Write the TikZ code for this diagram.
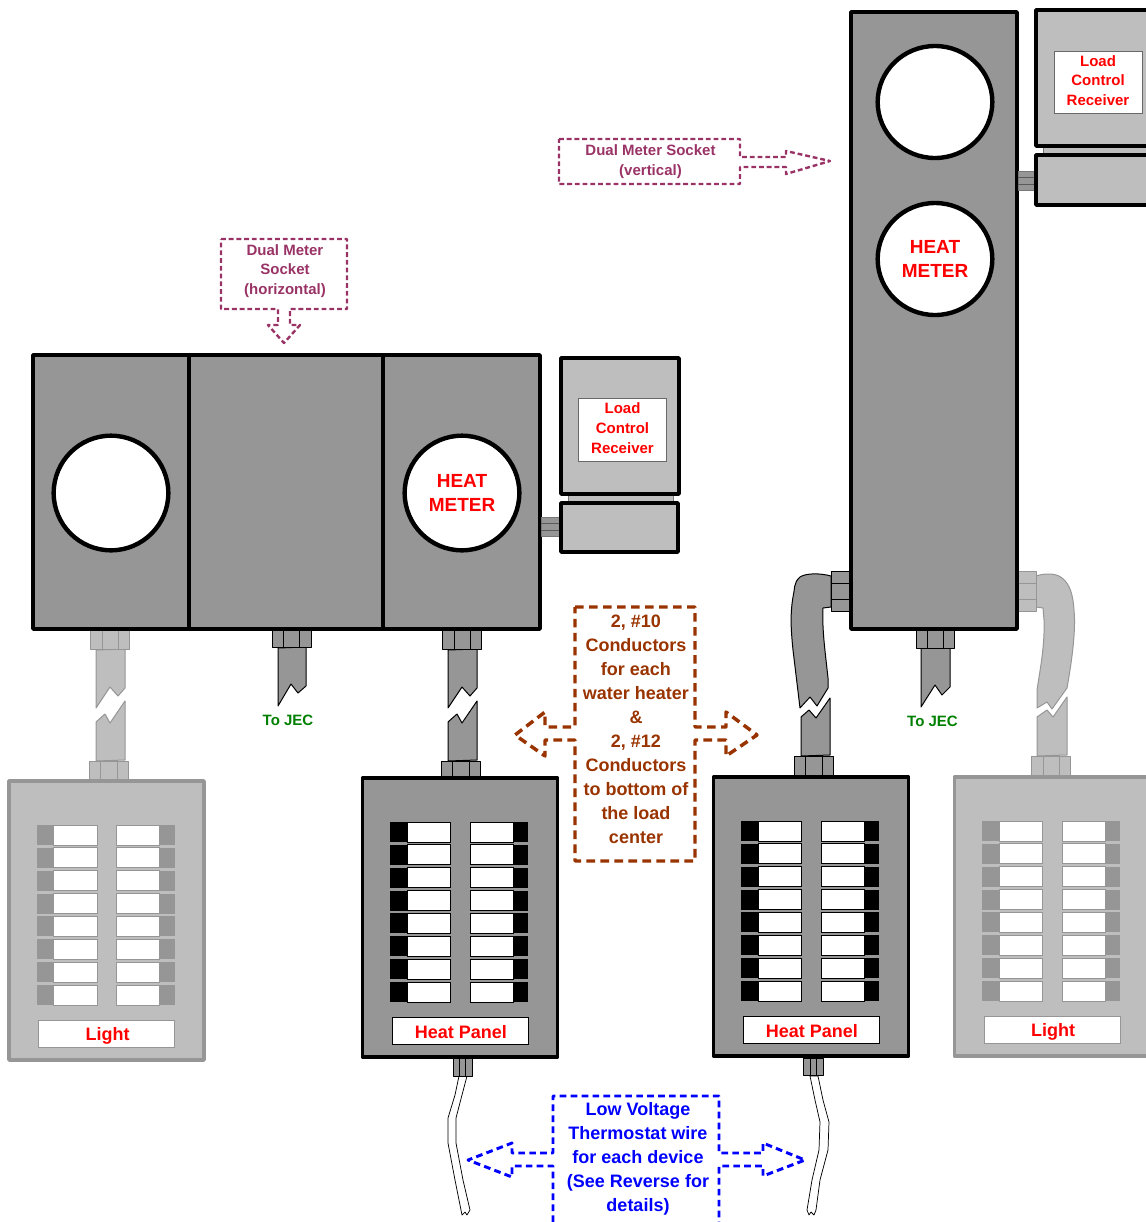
\documentclass[tikz,border=0pt]{standalone}
\usepackage{fontspec}
\usetikzlibrary{shapes.geometric}
\setmainfont{Liberation Sans}
\definecolor{dk}{HTML}{969696}
\definecolor{lt}{HTML}{BEBEBE}
\definecolor{burg}{HTML}{993366}
\definecolor{rust}{HTML}{993300}
\definecolor{myblue}{HTML}{0000FF}
\definecolor{mygreen}{HTML}{008000}
\tikzset{
  heavy/.style={draw=black,line width=2.8pt,line join=round},
  meterring/.style={draw=black,line width=3.3pt,fill=white,inner sep=0pt},
  thinline/.style={line width=0.75pt,line join=round},
  wireline/.style={line width=0.55pt,line join=round},
  t18/.style={font=\fontsize{13.5}{18}\selectfont\bfseries,inner sep=0pt,align=center},
  t15/.style={font=\fontsize{11.25}{15}\selectfont\bfseries,inner sep=0pt,align=center},
  t20/.style={font=\fontsize{14.25}{18}\selectfont\bfseries,inner sep=0pt,align=center},
  burgcall/.style={draw=burg,line width=1.8pt,dash pattern=on 3.6pt off 2.2pt,line join=round},
  rustcall/.style={draw=rust,line width=2.6pt,dash pattern=on 6.5pt off 4pt,line join=round},
  bluecall/.style={draw=myblue,line width=2.2pt,dash pattern=on 5pt off 3.2pt,line join=round},
}
\newcommand{\nutH}[7]{%
  \draw[#7,thinline] (#1,#3) rectangle (#2,#4);
  \draw[#7,thinline] (#5,#3) -- (#5,#4) (#6,#3) -- (#6,#4);
}
\newcommand{\brokenpipe}[2]{%
  \begin{scope}[xshift=#1*0.75pt]
    \draw[#2,thinline] (96,650) -- (125,649) -- (125,688) -- (118,696) -- (110,687) -- (96,708) -- cycle;
    \draw[#2,thinline] (96,722) -- (105,714) -- (110,723) -- (125,701) -- (125,760) -- (96,761) -- cycle;
    \nutH{90}{129}{630}{649}{102}{118}{#2}
    \nutH{89}{128}{761}{779}{100}{117}{#2}
  \end{scope}
}
% panel: name x y fill border block label
\newcommand{\panelbox}[7]{%
  \begin{scope}[shift={(#2*0.75pt,-#3*0.75pt)}]
    \draw[fill=#4,draw=#5,line width=2.8pt,line join=round] (0.5,0) rectangle (195.5,279);
    \foreach \r in {0,...,7}{
      \pgfmathsetmacro{\yy}{44+22.86*\r}
      \pgfmathsetmacro{\yz}{\yy+20}
      \fill[#6] (28,\yy) rectangle (45,\yz);
      \fill[#6] (151,\yy) rectangle (166,\yz);
      \draw[fill=white,draw=#6,line width=.75pt] (45,\yy) rectangle (88.5,\yz);
      \draw[fill=white,draw=#6,line width=.75pt] (108,\yy) rectangle (151,\yz);
    }
    \draw[fill=white,draw=#6,line width=.75pt] (30,239) rectangle (166,266);
    \node[t18,text=red] (#1) at (99,254.5) {#7};
  \end{scope}
}
\begin{document}
\begin{tikzpicture}[x=0.75pt,y=-0.75pt]
\useasboundingbox (0,0) rectangle (1146,1222);
\begin{scope}
\clip (0,0) rectangle (1146,1222);

% conduits first
\brokenpipe{0}{fill=lt,draw=dk}
\brokenpipe{352}{fill=dk,draw=black}

% JEC stubs
\draw[fill=dk,draw=black,thinline] (278,648) -- (306,647) -- (306,686) -- (298,693) -- (291,684) -- (278,706) -- cycle;
\nutH{272}{311}{629}{647}{283}{299}{fill=dk,draw=black}
\draw[fill=dk,draw=black,thinline] (921,648) -- (950,648) -- (950,687) -- (942,695) -- (935,685) -- (921,707) -- cycle;
\nutH{916}{954}{630}{648}{927}{943}{fill=dk,draw=black}
\node[t15,text=mygreen] (jec1) at (288,720) {To JEC};
\node[t15,text=mygreen] (jec2) at (932.5,721) {To JEC};

% bent conduit, dark
\draw[fill=dk,draw=black,thinline] (831,576) .. controls (820,573) and (806,573) .. (800,577)
  .. controls (793,583) and (795,590) .. (793,597) .. controls (790,615) and (791,630) .. (793,650)
  -- (800,708) -- (810,697) -- (817,706) -- (828,688) -- (828,678)
  .. controls (825,650) and (822,630) .. (823,608) -- (831,607) -- cycle;
\draw[fill=dk,draw=black,thinline] (801,717) -- (809,710) -- (816,718) -- (830,698) -- (830,755) -- (801,756) -- cycle;
\draw[fill=dk,draw=black,thinline] (831,571) rectangle (850,611);
\draw[black,thinline] (831,583) -- (850,583) (831,599) -- (850,599);
\nutH{794}{833}{756}{775}{805}{822}{fill=dk,draw=black}

% bent conduit, light
\draw[fill=lt,draw=dk,thinline] (1036,576) .. controls (1045,573) and (1056,573) .. (1062,578)
  .. controls (1070,584) and (1073,595) .. (1074,610) .. controls (1076,630) and (1072,660) .. (1067,688)
  -- (1052,709) -- (1047,702) -- (1037,708) -- (1037,690) .. controls (1040,670) and (1045,645) .. (1044,620) -- (1043,608) -- (1036,607) -- cycle;
\draw[fill=lt,draw=dk,thinline] (1037,717) -- (1047,710) -- (1053,717) -- (1067,697) -- (1067,755) -- (1037,756) -- cycle;
\draw[fill=lt,draw=dk,thinline] (1017,571) rectangle (1036,611);
\draw[dk,thinline] (1017,583) -- (1036,583) (1017,599) -- (1036,599);
\nutH{1031}{1070}{756}{775}{1043}{1059}{fill=lt,draw=dk}

% horizontal dual meter socket
\draw[heavy,fill=dk] (33,355) rectangle (540,629);
\draw[heavy] (189,355) -- (189,629) (383,355) -- (383,629);
\node[meterring,circle,minimum size=86pt] (meterA) at (111,493) {};
\node[meterring,circle,minimum size=86pt,t20,text=red] (meterB) at (462,493) {HEAT\\METER};

% load control receiver, horizontal
\draw[fill=dk,draw=dk!80!black,thinline] (541,517) rectangle (561,536);
\draw[dk!60!black,thinline] (541,523) -- (561,523) (541,530) -- (561,530);
\draw[fill=lt,draw=dk!80!black,thinline] (568,490) rectangle (673,506);
\draw[heavy,fill=lt] (561,358) rectangle (679,494);
\draw[heavy,fill=lt] (561,503) rectangle (678,552);
\node[fill=white,draw=dk!70!black,line width=.75pt,minimum width=66pt,minimum height=47pt,inner sep=0pt] (lcr1) at (622.5,430) {};
\node[t15,text=red,font=\fontsize{11.25}{14.8}\selectfont\bfseries] (lcr1t) at (622.5,428) {Load\\Control\\Receiver};

% vertical dual meter socket
\draw[heavy,fill=dk] (851,12) rectangle (1017,629);
\node[meterring,ellipse,minimum width=86pt,minimum height=84pt] (meterC) at (935,102) {};
\node[meterring,ellipse,minimum width=86pt,minimum height=84pt,t20,text=red] (meterD) at (935,259) {HEAT\\METER};

% receiver, vertical (runs off the page)
\draw[fill=dk,draw=dk!80!black,thinline] (1018,171) rectangle (1036,190);
\draw[dk!60!black,thinline] (1018,177) -- (1036,177) (1018,184) -- (1036,184);
\draw[fill=lt,draw=dk!80!black,thinline] (1043,142) rectangle (1160,158);
\draw[heavy,fill=lt] (1036,10) rectangle (1160,146);
\draw[heavy,fill=lt] (1036,155) rectangle (1160,205);
\node[fill=white,draw=dk!70!black,line width=.75pt,minimum width=66pt,minimum height=47pt,inner sep=0pt] (lcr2) at (1098,82.5) {};
\node[t15,text=red,font=\fontsize{11.25}{14.8}\selectfont\bfseries] (lcr2t) at (1098,80.5) {Load\\Control\\Receiver};

% panels
\panelbox{lightA}{8.5}{781}{lt}{dk}{dk}{Light}
\panelbox{heatA}{362}{778}{dk}{black}{black}{Heat Panel}
\panelbox{heatB}{713}{777}{dk}{black}{black}{Heat Panel}
\panelbox{lightB}{954}{777}{lt}{dk}{dk}{Light}

% thermostat wires
\draw[fill=white,draw=black,wireline] (459,1076) -- (455,1095) -- (448,1118) -- (448,1143) -- (455,1180) -- (461,1210) -- (462,1215) -- (465,1212) -- (467,1215) -- (470,1210) -- (463,1180) -- (456,1143) -- (456,1118) -- (462,1095) -- (467,1076) -- cycle;
\nutH{453}{472}{1058}{1076}{459}{465}{fill=dk,draw=black}
\draw[fill=white,draw=black,wireline] (810,1076) -- (815,1100) -- (820,1122) -- (819,1150) -- (812,1180) -- (807,1210) -- (809,1215) -- (811,1212) -- (814,1215) -- (816,1210) -- (820,1180) -- (828,1150) -- (829,1122) -- (823,1100) -- (818,1076) -- cycle;
\nutH{803}{823}{1058}{1075}{810}{816}{fill=dk,draw=black}

% callouts
\draw[burgcall] (559,139) -- (740,139) -- (740,157) -- (786,157) -- (786,151) -- (830,161) -- (786,174) -- (786,167) -- (740,167) -- (740,184) -- (559,184) -- cycle;
\node[t15,text=burg] (calloutV) at (650.5,162) {Dual Meter Socket\\(vertical)};
\draw[burgcall] (221,239) -- (347,239) -- (347,309) -- (290,309) -- (290,325) -- (300,325) -- (284,343) -- (268,325) -- (278,325) -- (278,309) -- (221,309) -- cycle;
\node[t15,text=burg,font=\fontsize{11.25}{14.6}\selectfont\bfseries] (calloutH) at (285,271) {Dual Meter\\Socket\\(horizontal)};

\draw[rustcall] (575,607) -- (695,607) -- (695,727) -- (726,727) -- (726,712) -- (757,735) -- (726,756) -- (726,740) -- (695,740) -- (695,861) -- (575,861) -- (575,740) -- (545,740) -- (545,756) -- (515,735) -- (545,712) -- (545,727) -- (575,727) -- cycle;
\node[t18,text=rust] (calloutC) at (636,729) {2, \#10\\Conductors\\for each\\water heater\\\&\\2, \#12\\Conductors\\to bottom of\\the load\\center};

\draw[bluecall] (553,1222) -- (553,1166) -- (512,1166) -- (512,1177) -- (468,1160) -- (512,1143) -- (512,1153) -- (553,1153) -- (553,1096) -- (719,1096) -- (719,1153) -- (763,1153) -- (763,1143) -- (805,1160) -- (763,1176) -- (763,1166) -- (719,1166) -- (719,1222);
\node[t18,text=myblue] (calloutT) at (638,1159) {Low Voltage\\Thermostat wire\\for each device\\(See Reverse for\\details)};
\end{scope}
\end{tikzpicture}
\end{document}
